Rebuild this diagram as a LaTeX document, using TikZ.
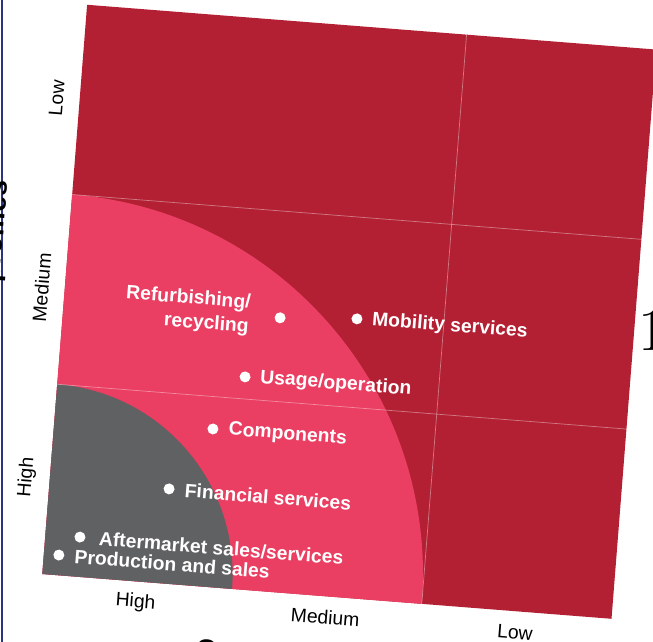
\documentclass[tikz,border=0pt]{standalone}
\usepackage{fontspec}
\newfontfamily\helv{Liberation Sans}
\usetikzlibrary{positioning}
\definecolor{wine}{RGB}{179,32,52}
\definecolor{rose}{RGB}{234,62,98}
\definecolor{slate}{RGB}{96,97,99}
\definecolor{navy}{RGB}{44,52,128}
\begin{document}
\begin{tikzpicture}[%
% common options for the white dots:
dot/.style = {circle, fill=white, minimum size=0.33cm, inner sep=0},
% common options for the item labels:
item/.style = {text=white, font=\helv\fontsize{16.5}{20.5}\selectfont\bfseries, inner sep=0},
% common options for the axis levels:
level/.style = {font=\helv\fontsize{16.5}{20}\selectfont, inner sep=0},
gridline/.style = {white, opacity=0.4, line width=0.6pt}]
\useasboundingbox (-1.269,-2.04) rectangle (18.321,17.22);
\draw[navy, line width=1.6pt] (-1.209,-2.04) -- (-1.209,17.22);
\node[font=\fontsize{51}{51}\selectfont, anchor=base west, inner sep=0] (pagenum) at (17.89,6.69) {1};
\begin{scope}[rotate=-4.5, transform shape, x=5.71cm, y=5.71cm]
% matrix fields
\fill[wine] (0,0) rectangle (3,3);
\fill[rose] (0,0) -- (2,0) arc[start angle=0, end angle=90, radius=2] -- cycle;
\fill[slate] (0,0) -- (1,0) arc[start angle=0, end angle=90, radius=1] -- cycle;
\draw[gridline] (0,1) -- (3,1);
\draw[gridline] (0,2) -- (3,2);
\draw[gridline] (2,0) -- (2,3);
% dots
\node[dot] (refurb) at (1.140,1.440) {};
\node[dot] (mobility) at (1.543,1.466) {};
\node[dot] (usage) at (0.981,1.116) {};
\node[dot] (components) at (0.834,0.830) {};
\node[dot] (financial) at (0.629,0.498) {};
\node[dot] (aftermarket) at (0.182,0.209) {};
\node[dot] (production) at (0.079,0.106) {};
% labels
\node[item, align=right, left=0.74cm of refurb] (refurbtext) {Refurbishing/\\recycling};
\node[item, right=0.28cm of mobility] (mobilitytext) {Mobility services};
\node[item, right=0.28cm of usage] (usagetext) {Usage/operation};
\node[item, right=0.3cm of components] (componentstext) {Components};
\node[item, right=0.3cm of financial] (financialtext) {Financial services};
\node[item, right=0.4cm of aftermarket] (aftermarkettext) {Aftermarket sales/services};
\node[item, right=0.3cm of production] (productiontext) {Production and sales};
% axis levels
\node[level, rotate=90] (rowlow) at (-0.121,2.5) {Low};
\node[level, rotate=90] (rowmedium) at (-0.121,1.5) {Medium};
\node[level, rotate=90] (rowhigh) at (-0.121,0.5) {High};
\node[level] (colhigh) at (0.5,-0.110) {High};
\node[level] (colmedium) at (1.5,-0.110) {Medium};
\node[level] (collow) at (2.5,-0.110) {Low};
% axis titles, cut by the page
\node[font=\helv\fontsize{24}{24}\selectfont\bfseries, rotate=90, anchor=base, inner sep=0] (rowtitle) at (-0.344,1.776) {profiles};
\node[font=\helv\fontsize{24}{24}\selectfont\bfseries, anchor=north, inner sep=0] (coltitle) at (0.889,-0.273) {C};
\end{scope}
\end{tikzpicture}
\end{document}
